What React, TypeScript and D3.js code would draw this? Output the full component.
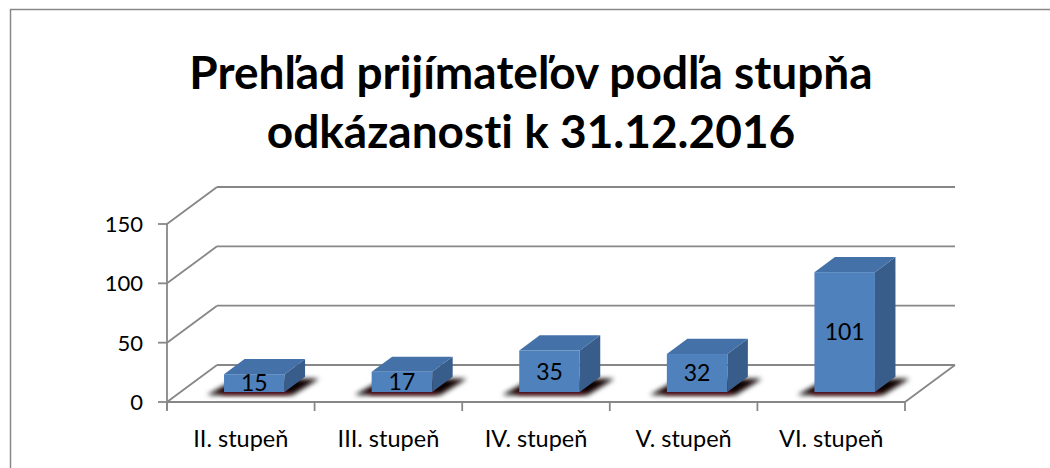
import React, { useEffect, useRef } from "react";
import * as d3 from "d3";

const categories = ["II. stupeň", "III. stupeň", "IV. stupeň", "V. stupeň", "VI. stupeň"];
const values = [15, 17, 35, 32, 101];
const yTicks = [0, 50, 100, 150];
const titleLines = ["Prehľad prijímateľov podľa stupňa", "odkázanosti k 31.12.2016"];

const W = 1050,
  H = 468;
// 3d box: front plane + depth offset to back wall
const plot = { left: 167, right: 905, bottom: 402, top: 224 };
const depth = { dx: 50, dy: -37 };
const barDepth = { f1: 0.27, f2: 0.68 };
const gridColor = "#878787";
const font = "Lato, 'Open Sans', sans-serif";

export default function App() {
  const ref = useRef<SVGSVGElement | null>(null);

  useEffect(() => {
    const svg = d3.select(ref.current);
    svg.selectAll("*").remove();

    const x = d3.scaleBand<string>().domain(categories).range([plot.left, plot.right]);
    const y = d3.scaleLinear().domain([0, 150]).range([plot.bottom, plot.top]);

    const defs = svg.append("defs");
    defs
      .append("filter")
      .attr("id", "blur")
      .attr("x", "-50%")
      .attr("y", "-100%")
      .attr("width", "200%")
      .attr("height", "300%")
      .append("feGaussianBlur")
      .attr("stdDeviation", 2.5);

    // outer frame
    svg
      .append("rect")
      .attr("x", 10.5)
      .attr("y", 9.5)
      .attr("width", W + 20)
      .attr("height", H + 20)
      .attr("fill", "#fff")
      .attr("stroke", "#888")
      .attr("stroke-width", 1.5);

    // title
    svg
      .append("g")
      .selectAll("text")
      .data(titleLines)
      .enter()
      .append("text")
      .attr("x", 531)
      .attr("y", (d, i) => 89 + i * 59)
      .attr("text-anchor", "middle")
      .style("font-family", font)
      .style("font-weight", "bold")
      .style("font-size", "46px")
      .style("font-variant-ligatures", "none")
      .attr("fill", "#000")
      .text((d) => d);

    const g = svg.append("g");
    const line = (x1: number, y1: number, x2: number, y2: number) =>
      g
        .append("line")
        .attr("x1", x1)
        .attr("y1", y1)
        .attr("x2", x2)
        .attr("y2", y2)
        .attr("stroke", gridColor)
        .attr("stroke-width", 1.8);

    // back wall + side wall gridlines
    yTicks.forEach((t) => {
      line(plot.left + depth.dx, y(t) + depth.dy, plot.right + depth.dx, y(t) + depth.dy);
      line(plot.left, y(t), plot.left + depth.dx, y(t) + depth.dy);
    });
    // floor front + right edges
    line(plot.left, y(0), plot.right, y(0));
    line(plot.right, y(0), plot.right + depth.dx, y(0) + depth.dy);

    // y axis
    line(plot.left, y(150), plot.left, y(0) + 8);
    yTicks.forEach((t) => line(plot.left - 9, y(t), plot.left, y(t)));
    g.selectAll("text.ylab")
      .data(yTicks)
      .enter()
      .append("text")
      .attr("class", "ylab")
      .attr("x", plot.left - 24)
      .attr("y", (d) => y(d))
      .attr("dy", "0.36em")
      .attr("text-anchor", "end")
      .style("font-family", font)
      .style("font-size", "22px")
      .attr("fill", "#000")
      .text((d) => d);

    // x ticks
    const edges = categories.map((c) => x(c) as number).concat([plot.right]);
    edges.forEach((e) => line(e, y(0), e, y(0) + 9));
    g.selectAll("text.xlab")
      .data(categories)
      .enter()
      .append("text")
      .attr("class", "xlab")
      .attr("x", (d) => (x(d) as number) + x.bandwidth() / 2)
      .attr("y", 447)
      .attr("text-anchor", "middle")
      .style("font-family", font)
      .style("font-size", "23.5px")
      .attr("fill", "#000")
      .text((d) => d);

    // bars
    const barW = x.bandwidth() * 0.41;
    const ox = depth.dx * barDepth.f1,
      oy = depth.dy * barDepth.f1;
    const bx = depth.dx * (barDepth.f2 - barDepth.f1),
      by = depth.dy * (barDepth.f2 - barDepth.f1);

    const bars = g
      .selectAll("g.bar")
      .data(values)
      .enter()
      .append("g")
      .attr("class", "bar")
      .attr("transform", (d, i) => {
        const cx = (x(categories[i]) as number) + x.bandwidth() / 2 - barW / 2 + ox;
        return `translate(${cx},${y(0) + oy})`;
      });

    const h = (d: number) => y(0) - y(d);
    // shadow on floor
    bars
      .append("path")
      .attr(
        "d",
        () => `M${-17},${3} L${barW + 8},${3} L${barW + bx + 14},${by + 2} L${bx - 8},${by + 2} Z`
      )
      .attr("fill", "#0d0000")
      .attr("filter", "url(#blur)");
    bars
      .append("rect")
      .attr("x", -2)
      .attr("y", -1)
      .attr("width", barW + 6)
      .attr("height", 3)
      .attr("fill", "#6a0f16")
      .attr("filter", "url(#blur)");
    // side
    bars
      .append("path")
      .attr("d", (d) => `M${barW},0 L${barW + bx},${by} L${barW + bx},${-h(d) + by} L${barW},${-h(d)} Z`)
      .attr("fill", "#385d8a");
    // top
    bars
      .append("path")
      .attr("d", (d) => `M0,${-h(d)} L${bx},${-h(d) + by} L${barW + bx},${-h(d) + by} L${barW},${-h(d)} Z`)
      .attr("fill", "#4371a8");
    // front
    bars
      .append("rect")
      .attr("x", 0)
      .attr("y", (d) => -h(d))
      .attr("width", barW)
      .attr("height", (d) => h(d))
      .attr("fill", "#4f81bd");
    bars
      .append("text")
      .attr("x", barW / 2)
      .attr("y", (d) => -h(d) / 2)
      .attr("dy", "0.36em")
      .attr("text-anchor", "middle")
      .style("font-family", font)
      .style("font-size", "23px")
      .attr("fill", "#000")
      .text((d) => d);
  }, []);

  return (
    <div style={{ position: "absolute", left: 0, top: 0, width: W, height: H, overflow: "hidden" }}>
      <svg ref={ref} width={W} height={H} style={{ display: "block" }} />
    </div>
  );
}
